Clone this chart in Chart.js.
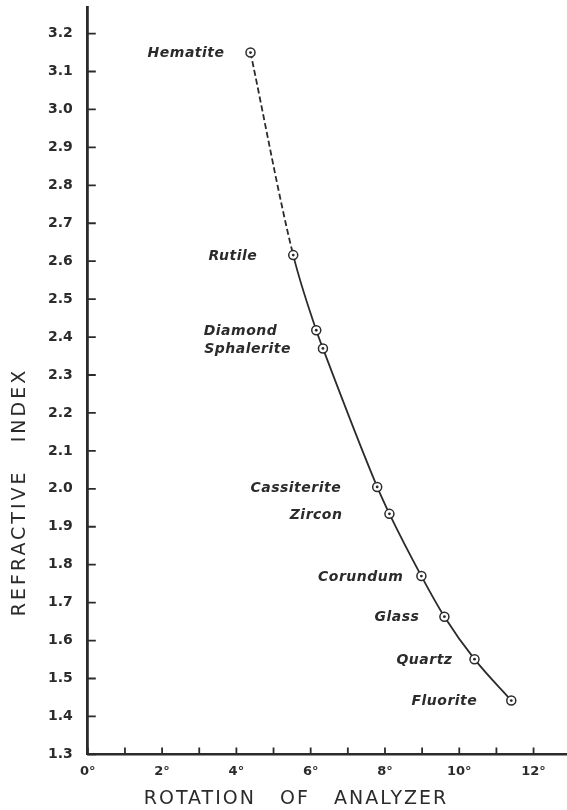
<!DOCTYPE html>
<html>
<head>
<meta charset="utf-8">
<script src="https://cdn.jsdelivr.net/npm/chart.js@4/dist/chart.umd.min.js"></script>
<style>
  body { margin: 0; background: #fff; }
  #wrap { width: 567px; height: 810px; }
</style>
</head>
<body>
<div id="wrap"><canvas id="chart" width="567" height="810"></canvas></div>
<script>
        const minerals = ['Hematite', 'Rutile', 'Diamond', 'Sphalerite', 'Cassiterite',
                          'Zircon', 'Corundum', 'Glass', 'Quartz', 'Fluorite'];
        const rotation = [4.38, 5.53, 6.15, 6.33, 7.79, 8.12, 8.98, 9.60, 10.41, 11.40];
        const refractiveIndex = [3.15, 2.616, 2.418, 2.37, 2.005, 1.934, 1.77, 1.663, 1.551, 1.442];
        const xTickLabels = ['0°', '', '2°', '', '4°', '', '6°', '', '8°', '', '10°', '', '12°'];
        const xTitle = 'ROTATION   OF   ANALYZER';
        const yTitle = 'REFRACTIVE   INDEX';

        // gap between point centre and right end of its label
        const labelGaps = [26, 36, 39, 32, 36, 47, 18, 25, 22, 34];

        const ink = '#2b2b2b';
        const points = rotation.map((x, i) => ({ x: x, y: refractiveIndex[i] }));

        const tickMarks = {
            id: 'tickMarks',
            afterDraw(chart) {
                const ctx = chart.ctx;
                const area = chart.chartArea;
                const xs = chart.scales.x, ys = chart.scales.y;
                ctx.save();
                ctx.strokeStyle = ink;
                ctx.lineWidth = 1.8;
                ctx.beginPath();
                ys.ticks.forEach(t => {
                    const py = ys.getPixelForValue(t.value);
                    ctx.moveTo(area.left, py);
                    ctx.lineTo(area.left + 8, py);
                });
                xs.ticks.forEach(t => {
                    const px = xs.getPixelForValue(t.value);
                    ctx.moveTo(px, area.bottom);
                    ctx.lineTo(px, area.bottom - 7);
                });
                ctx.stroke();

                // axis titles
                ctx.fillStyle = ink;
                ctx.textAlign = 'center';
                ctx.textBaseline = 'middle';
                ctx.font = '19px "DejaVu Sans"';
                ctx.letterSpacing = '2px';
                ctx.fillText(xTitle, 296, 799);
                ctx.translate(20, 492);
                ctx.rotate(-Math.PI / 2);
                ctx.letterSpacing = '3px';
                ctx.fillText(yTitle, 0, 0);
                ctx.restore();
            }
        };

        const pointLabels = {
            id: 'pointLabels',
            afterDatasetsDraw(chart) {
                const ctx = chart.ctx;
                const meta = chart.getDatasetMeta(0);
                ctx.save();
                ctx.fillStyle = ink;
                ctx.font = 'italic bold 14px "DejaVu Sans"';
                ctx.letterSpacing = '0.5px';
                ctx.textAlign = 'right';
                ctx.textBaseline = 'middle';
                meta.data.forEach((pt, i) => {
                    ctx.fillText(minerals[i], pt.x - labelGaps[i], pt.y + 1);
                });
                ctx.restore();
            }
        };

        const noPad = s => {
            s.paddingTop = 0; s.paddingBottom = 0;
            s.paddingLeft = 0; s.paddingRight = 0;
        };

        new Chart(document.getElementById('chart').getContext('2d'), {
            type: 'line',
            data: {
                datasets: [{
                    data: points,
                    order: 1,
                    borderColor: ink,
                    borderWidth: 1.8,
                    cubicInterpolationMode: 'monotone',
                    segment: {
                        borderDash: c => c.p0DataIndex === 0 ? [6, 3] : undefined
                    },
                    pointRadius: 4.5,
                    pointBorderWidth: 1.5,
                    pointBorderColor: ink,
                    pointBackgroundColor: '#fff',
                    fill: false
                }, {
                    data: points,
                    order: 0,
                    showLine: false,
                    pointRadius: 1.4,
                    pointBorderWidth: 0,
                    pointBackgroundColor: ink
                }]
            },
            options: {
                responsive: false,
                animation: false,
                layout: { autoPadding: false, padding: { left: 33, right: 0, top: 7, bottom: 22 } },
                plugins: { legend: { display: false }, tooltip: { enabled: false } },
                scales: {
                    x: {
                        type: 'linear',
                        min: 0,
                        max: 12.9,
                        afterFit: noPad,
                        border: { display: true, color: ink, width: 2.5 },
                        grid: { display: false, drawTicks: false },
                        ticks: {
                            stepSize: 1,
                            autoSkip: false,
                            includeBounds: false,
                            maxRotation: 0,
                            padding: 9,
                            color: ink,
                            font: { family: 'DejaVu Sans', size: 13, weight: 'bold' },
                            callback: v => xTickLabels[Math.round(v)] || ''
                        }
                    },
                    y: {
                        type: 'linear',
                        min: 1.3,
                        max: 3.27,
                        afterFit: noPad,
                        border: { display: true, color: ink, width: 2.8 },
                        grid: { display: false, drawTicks: false },
                        ticks: {
                            stepSize: 0.1,
                            autoSkip: false,
                            includeBounds: false,
                            padding: 15,
                            color: ink,
                            font: { family: 'DejaVu Sans', size: 14, weight: 'bold' },
                            callback: v => v.toFixed(1)
                        }
                    }
                }
            },
            plugins: [tickMarks, pointLabels]
        });
</script>
</body>
</html>
